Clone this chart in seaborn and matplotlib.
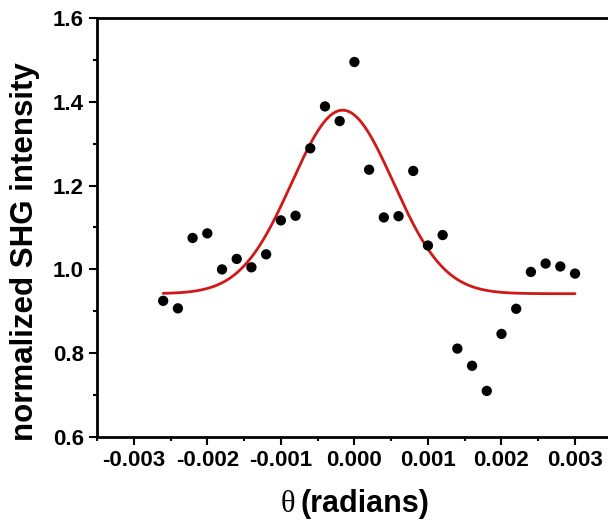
import numpy as np
import pandas as pd
import matplotlib
matplotlib.use("Agg")
import matplotlib.pyplot as plt
from matplotlib.ticker import MultipleLocator, FormatStrFormatter
import seaborn as sns

# Measured SHG intensity versus rocking angle
theta = [-0.0026, -0.0024, -0.0022, -0.0020, -0.0018, -0.0016, -0.0014, -0.0012,
         -0.0010, -0.0008, -0.0006, -0.0004, -0.0002, 0.0000, 0.0002, 0.0004,
         0.0006, 0.0008, 0.0010, 0.0012, 0.0014, 0.0016, 0.0018, 0.0020,
         0.0022, 0.0024, 0.0026, 0.0028, 0.0030]
intensity = [0.925, 0.907, 1.075, 1.086, 1.000, 1.025, 1.005, 1.036,
             1.117, 1.128, 1.289, 1.389, 1.354, 1.495, 1.238, 1.124,
             1.127, 1.235, 1.057, 1.082, 0.811, 0.770, 0.710, 0.846,
             0.906, 0.994, 1.014, 1.007, 0.990]

# Gaussian fit parameters
fit_offset = 0.942
fit_amplitude = 0.438
fit_center = -0.00016
fit_sigma = 0.00069

df = pd.DataFrame({"theta": theta, "intensity": intensity})
fit_x = np.linspace(min(theta), max(theta), 400)
fit_y = fit_offset + fit_amplitude * np.exp(-(fit_x - fit_center) ** 2 / (2 * fit_sigma ** 2))
fit_df = pd.DataFrame({"theta": fit_x, "intensity": fit_y})

sns.set_style("white")
plt.rcParams["font.family"] = ["Liberation Sans", "DejaVu Sans"]
plt.rcParams["font.weight"] = "bold"
plt.rcParams["text.color"] = "black"
plt.rcParams["axes.labelcolor"] = "black"
plt.rcParams["xtick.color"] = "black"
plt.rcParams["ytick.color"] = "black"

W, H = 608, 525
fig = plt.figure(figsize=(W / 100, H / 100), dpi=100)
ax_left, ax_right, ax_top, ax_bottom = 97, 611.8, 18, 437
ax = fig.add_axes([ax_left / W, (H - ax_bottom) / H,
                   (ax_right - ax_left) / W, (ax_bottom - ax_top) / H])

sns.lineplot(data=fit_df, x="theta", y="intensity", ax=ax, color="#d01818",
             linewidth=2.0, zorder=2)
sns.scatterplot(data=df, x="theta", y="intensity", ax=ax, color="black",
                s=55, edgecolor="none", zorder=3)

ax.set_xlim(-0.0035, 0.0035)
ax.set_ylim(0.6, 1.6)
ax.xaxis.set_major_locator(MultipleLocator(0.001))
ax.xaxis.set_minor_locator(MultipleLocator(0.0005))
ax.yaxis.set_major_locator(MultipleLocator(0.2))
ax.yaxis.set_minor_locator(MultipleLocator(0.1))
ax.xaxis.set_major_formatter(FormatStrFormatter("%.3f"))
ax.yaxis.set_major_formatter(FormatStrFormatter("%.1f"))

for side in ["left", "bottom", "top", "right"]:
    ax.spines[side].set_linewidth(2.0)
    ax.spines[side].set_color("black")

ax.tick_params(which="major", direction="out", length=6, width=1.5,
               labelsize=16, pad=3.5, colors="black", bottom=True, left=True)
ax.tick_params(which="minor", direction="out", length=3, width=1.5,
               bottom=True, left=True, colors="black")
for lab in ax.get_xticklabels() + ax.get_yticklabels():
    lab.set_fontweight("bold")

ax.set_xlabel("")
ax.set_ylabel("normalized SHG intensity", fontsize=22.5, fontweight="bold", color="black")
ax.yaxis.label.set_verticalalignment("center")
ax.yaxis.set_label_coords((25 - ax_left) / (ax_right - ax_left),
                          (ax_bottom - 251.5) / (ax_bottom - ax_top))

# x-axis label: serif theta followed by bold sans text
fig.text(287.5 / W, 1 - 504 / H, "\u03b8", family=["Liberation Serif", "DejaVu Serif"],
         fontsize=22, fontweight="normal", ha="center", va="center", color="black")
fig.text(300 / W, 1 - 504 / H, "(radians)", fontsize=22, fontweight="bold",
         ha="left", va="center", color="black")

fig.savefig("out.png", dpi=100)
